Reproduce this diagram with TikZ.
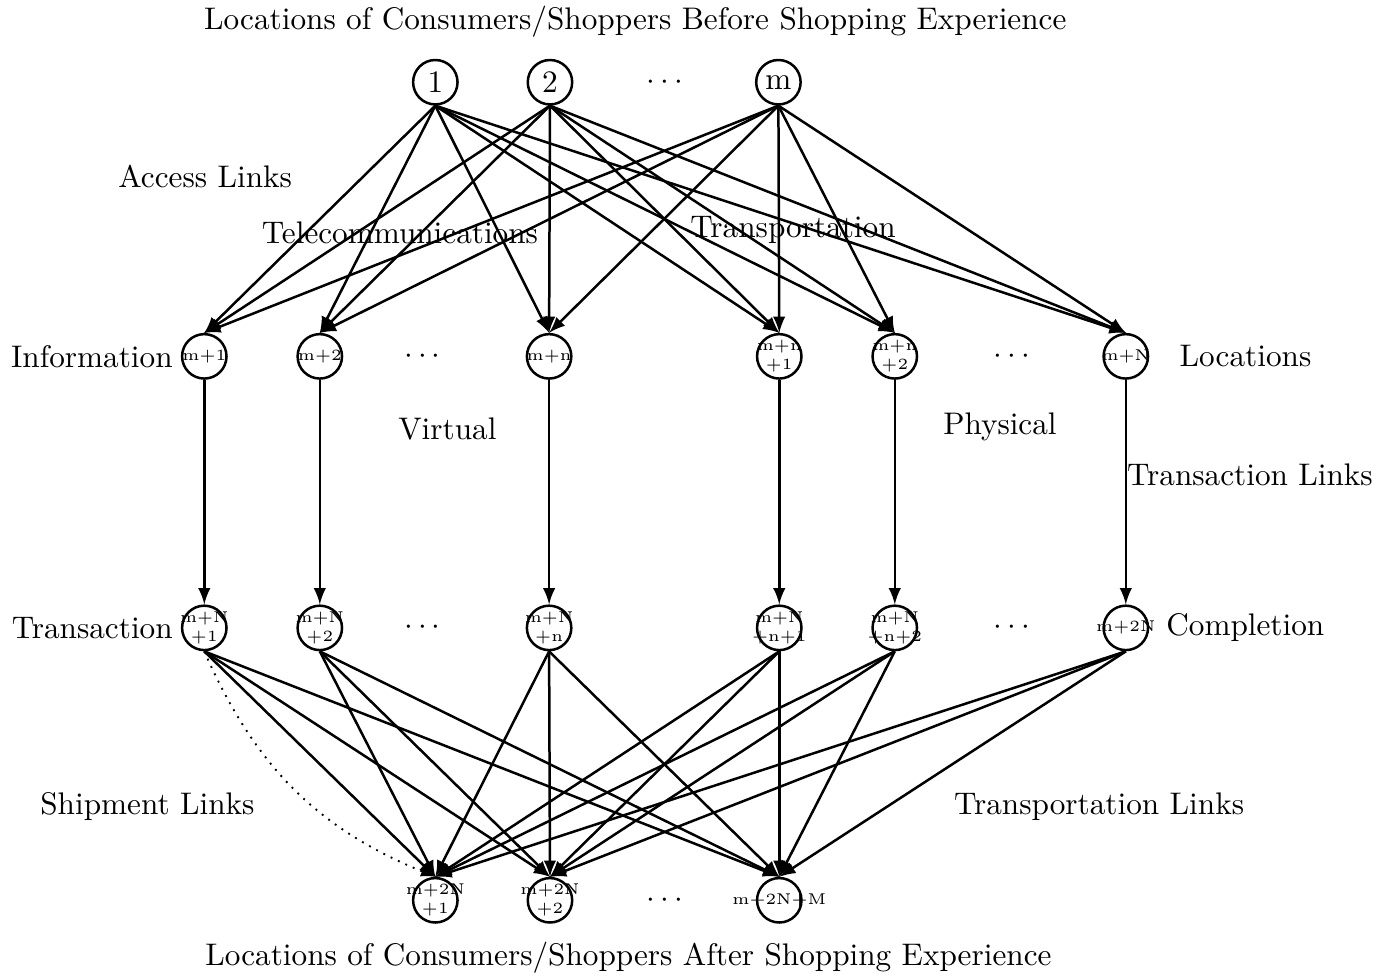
\documentclass[tikz,border=0pt]{standalone}
\usepackage{tikz}
\usetikzlibrary{positioning}
\begin{document}
\begin{tikzpicture}[x=0.97cm,y=0.97cm,
  topnd/.style={circle,draw=black,thick,minimum size=0.5cm,inner sep=0pt},
  nd/.style={circle,draw=black,thick,minimum size=0.5cm,inner sep=0pt,
    label={[font=\tiny,align=center,inner sep=0pt]center:{#1}}},
  lbl/.style={inner sep=1pt},
  arr/.style={-latex,thick}
]
  \useasboundingbox (0,0) rectangle (16.125,11.334);

  % --- origins (before shopping) ---
  \node[lbl] (title1) at (7.37,11.08) {Locations of Consumers/Shoppers Before Shopping Experience};
  \node[topnd] (A1) at (5.05,10.38) {1};
  \node[topnd] (A2) at (6.38,10.38) {2};
  \node[lbl]   (Ad) at (7.71,10.38) {$\cdots$};
  \node[topnd] (Am) at (9.03,10.38) {m};

  % --- information / location nodes ---
  \node[nd={m+1}] (B1)  at (2.37,7.20)  {};
  \node[nd={m+2}] (B2)  at (3.71,7.20)  {};
  \node[lbl] (Bd1) at (4.90,7.20) {$\cdots$};
  \node[nd={m+n}] (Bn)  at (6.37,7.20)  {};
  \node[nd={m+n\\+1}] (Bn1) at (9.04,7.20)  {};
  \node[nd={m+n\\+2}] (Bn2) at (10.38,7.20) {};
  \node[lbl] (Bd2) at (11.74,7.20) {$\cdots$};
  \node[nd={m+N}] (BN)  at (13.06,7.20) {};

  % --- transaction / completion nodes ---
  \node[nd={m+N\\+1}] (C1)  at (2.37,4.05)  {};
  \node[nd={m+N\\+2}] (C2)  at (3.71,4.05)  {};
  \node[lbl] (Cd1) at (4.90,4.05) {$\cdots$};
  \node[nd={m+N\\+n}] (Cn)  at (6.37,4.05)  {};
  \node[nd={m+N\\+n+1}] (Cn1) at (9.04,4.05)  {};
  \node[nd={m+N\\+n+2}] (Cn2) at (10.38,4.05) {};
  \node[lbl] (Cd2) at (11.74,4.05) {$\cdots$};
  \node[nd={m+2N}] (CN)  at (13.06,4.05) {};

  % --- destinations (after shopping) ---
  \node[nd={m+2N\\+1}] (D1) at (5.05,0.89) {};
  \node[nd={m+2N\\+2}] (D2) at (6.38,0.89) {};
  \node[lbl] (Dd) at (7.71,0.89) {$\cdots$};
  \node[nd={m+2N+M}] (DM) at (9.04,0.89) {};
  \node[lbl] (title2) at (7.29,0.22) {Locations of Consumers/Shoppers After Shopping Experience};

  % --- access links ---
  \path[arr] (A1.south) edge (B1.north) edge (B2.north) edge (Bn.north) edge (Bn1.north) edge (Bn2.north) edge (BN.north);
  \path[arr] (A2.south) edge (B1.north) edge (B2.north) edge (Bn.north) edge (Bn1.north) edge (Bn2.north) edge (BN.north);
  \path[arr] (Am.south) edge (B1.north) edge (B2.north) edge (Bn.north) edge (Bn1.north) edge (Bn2.north) edge (BN.north);

  % --- transaction links ---
  \draw[arr] (B1) -- (C1);
  \draw[arr] (B2) -- (C2);
  \draw[arr] (Bn) -- (Cn);
  \draw[arr] (Bn1) -- (Cn1);
  \draw[arr] (Bn2) -- (Cn2);
  \draw[arr] (BN) -- (CN);

  % --- shipment / transportation links ---
  \path[arr] (C1.south) edge (D1.north) edge (D2.north) edge (DM.north);
  \path[arr] (C2.south) edge (D1.north) edge (D2.north) edge (DM.north);
  \path[arr] (Cn.south) edge (D1.north) edge (D2.north) edge (DM.north);
  \path[arr] (Cn1.south) edge (D1.north) edge (D2.north) edge (DM.north);
  \path[arr] (Cn2.south) edge (D1.north) edge (D2.north) edge (DM.north);
  \path[arr] (CN.south) edge (D1.north) edge (D2.north) edge (DM.north);
  \draw[-latex,semithick,dotted] (C1.south) to[bend right=22] (D1.north);

  % --- labels ---
  \node[lbl] at (2.38,9.29) {Access Links};
  \node[lbl] at (4.64,8.63) {Telecommunications};
  \node[lbl] at (9.20,8.67) {Transportation};
  \node[lbl,left=0.05cm of B1] {Information};
  \node[lbl,right=0.3cm of BN] {Locations};
  \node[lbl] at (5.19,6.36) {Virtual};
  \node[lbl] at (11.60,6.38) {Physical};
  \node[lbl] at (14.50,5.82) {Transaction Links};
  \node[lbl,left=0.05cm of C1] {Transaction};
  \node[lbl,right=0.15cm of CN] {Completion};
  \node[lbl] at (1.71,1.98) {Shipment Links};
  \node[lbl] at (12.75,1.98) {Transportation Links};
\end{tikzpicture}
\end{document}
